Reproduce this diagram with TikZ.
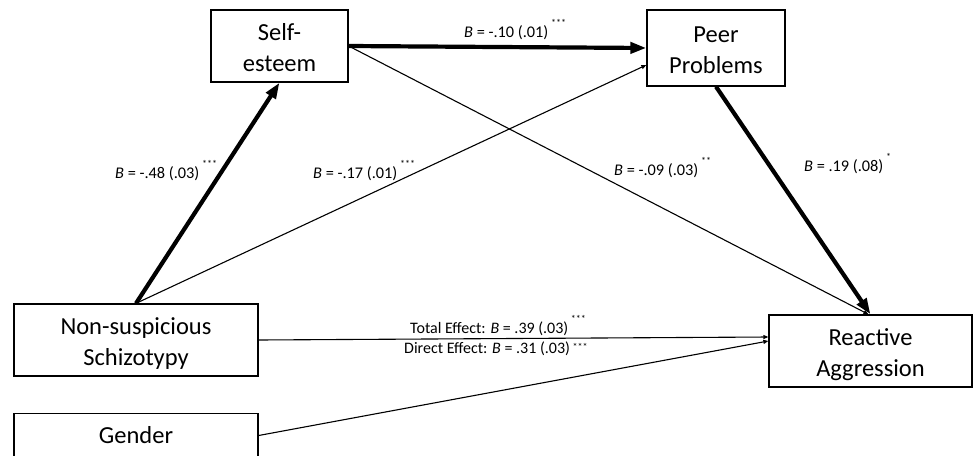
\documentclass[tikz,border=0pt]{standalone}
\usepackage{fontspec}
\setmainfont{Carlito}
\usepackage{tikz}
\usetikzlibrary{arrows.meta}

\newcommand{\sig}[1]{\raisebox{11pt}{\fontsize{10}{10}\selectfont #1}}
\newcommand{\twolines}[2]{\raisebox{-4pt}[\height][\depth]{\begin{tabular}{@{}c@{}}#1\\#2\end{tabular}}}

\begin{document}
\begin{tikzpicture}[x=1pt,y=-1pt,
		var/.style={draw,line width=1.3pt,align=center,inner sep=0pt,font=\fontsize{24.5}{31}\selectfont},
		coef/.style={anchor=base west,inner sep=0pt,font=\fontsize{16.3}{16}\selectfont},
		eff/.style={anchor=base west,inner sep=0pt,font=\fontsize{16}{16}\selectfont},
		strong/.style={line width=4.2pt,-{Triangle[length=16pt,width=11pt]}},
		weak/.style={line width=1.1pt,-{Triangle[length=5pt,width=4pt]}}]
				\useasboundingbox (0,0) rectangle (973,455);
				\clip (0,0) rectangle (973,455);
				\fill[white] (0,0) rectangle (973,455);
				
				\node[var,minimum width=137pt,minimum height=72pt] (se) at (279.5,46) {\twolines{Self-}{esteem}};
				\node[var,minimum width=138pt,minimum height=76pt] (pp) at (716,48) {\twolines{Peer}{Problems}};
				\node[var,minimum width=244pt,minimum height=72pt] (ns) at (136,340) {\twolines{Non-suspicious}{Schizotypy}};
				\node[var,minimum width=244pt,minimum height=44pt] (gen) at (136,435.5) {Gender};
				\node[var,minimum width=203pt,minimum height=72pt] (ra) at (870.5,351) {\twolines{Reactive}{Aggression}};
				
				\draw[strong] (ns.north) -- (se.south);
				\draw[weak] (ns.north) -- ([yshift=-17pt]pp.west);
				\draw[strong] (se.east) -- (pp.west);
				\draw[weak] (se.east) -- ([xshift=-2pt]ra.north);
				\draw[strong] (pp.south) -- (ra.north);
				\draw[weak] (ns.east) -- ([yshift=14pt]ra.west);
				\draw[weak] (gen.east) -- ([yshift=10pt]ra.west);
				
				\node[coef] (c1) at (464,37) {\textit{B} = -.10 (.01)\,\sig{***}};
				\node[coef] (c2) at (115,178) {\textit{B} = -.48 (.03)\,\sig{***}};
				\node[coef] (c3) at (313,178) {\textit{B} = -.17 (.01)\,\sig{***}};
				\node[coef] (c4) at (614,175) {\textit{B} = -.09 (.03)\,\sig{**}};
				\node[coef] (c5) at (804,171) {\textit{B} = .19 (.08)\,\sig{*}};
				\node[eff] (tot) at (410,333) {Total Effect: \textit{B} = .39 (.03)\,\sig{***}};
				\node[eff] (dir) at (404,353) {Direct Effect: \textit{B} = .31 (.03)\,\raisebox{3pt}{\fontsize{10}{10}\selectfont ***}};
			\end{tikzpicture}
\end{document}
